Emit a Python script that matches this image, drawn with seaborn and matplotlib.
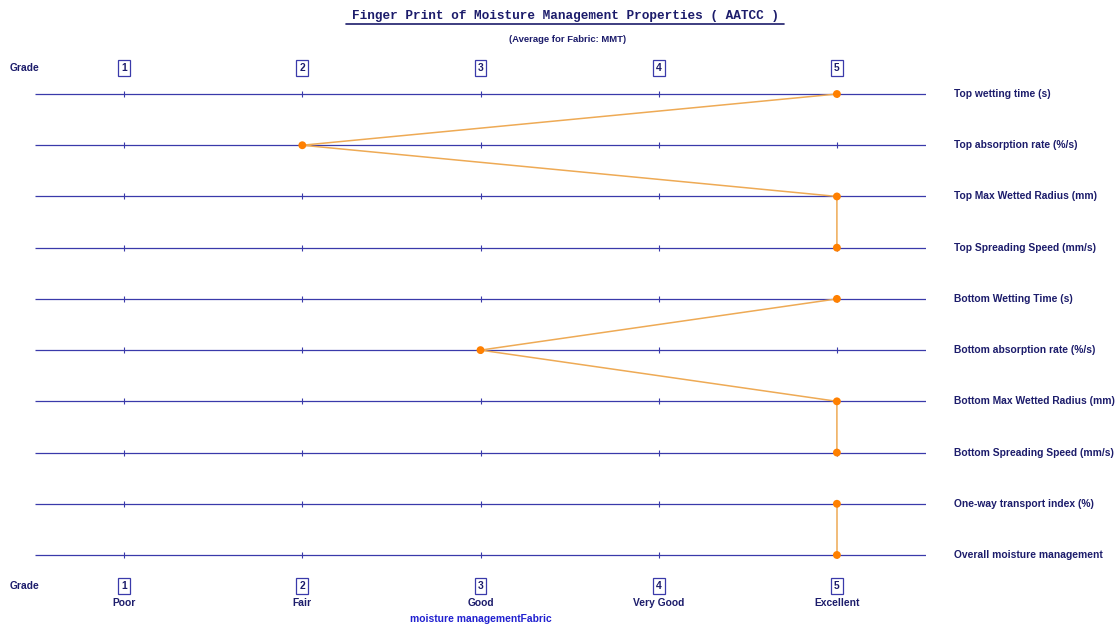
import matplotlib
matplotlib.use("Agg")
import matplotlib.pyplot as plt
import seaborn as sns
import pandas as pd
from matplotlib.lines import Line2D

properties = [
    "Top wetting time (s)",
    "Top absorption rate (%/s)",
    "Top Max Wetted Radius (mm)",
    "Top Spreading Speed (mm/s)",
    "Bottom Wetting Time (s)",
    "Bottom absorption rate (%/s)",
    "Bottom Max Wetted Radius (mm)",
    "Bottom Spreading Speed (mm/s)",
    "One-way transport index (%)",
    "Overall moisture management",
]
grades = [5, 2, 5, 5, 5, 3, 5, 5, 5, 5]
segments = ["top", "top", "top", "top", "bottom", "bottom", "bottom", "bottom",
            "overall", "overall"]
grade_ticks = [1, 2, 3, 4, 5]
grade_names = ["Poor", "Fair", "Good", "Very Good", "Excellent"]

title = "Finger Print of Moisture Management Properties ( AATCC )"
subtitle = "(Average for Fabric: MMT)"
xlabel = "moisture managementFabric"

sns.set_theme(style="white")
plt.rcParams["font.family"] = ["Liberation Sans", "DejaVu Sans"]

NAVY = "#1c1c6b"
BLUE = "#3a3aaa"
ORANGE_L = "#eeaa55"
ORANGE = "#ff8000"

W, H = 1118, 626
fig = plt.figure(figsize=(W / 100, H / 100), dpi=100)
fig.patch.set_facecolor("white")

# axes: x 0.5..5.5 -> px 35..926 ; rows -0.5..9.5 -> px 68.4..580.6
left_px, right_px = 35, 926
unit = (right_px - left_px) / 5
top_px, bot_px = 68.4, 580.6
ax = fig.add_axes([left_px / W, 1 - bot_px / H, (right_px - left_px) / W,
                   (bot_px - top_px) / H])
ax.set_xlim(0.5, 5.5)
ax.set_ylim(9.5, -0.5)
ax.axis("off")

rows = list(range(len(properties)))
df = pd.DataFrame({"grade": grades, "row": rows, "prop": properties, "seg": segments})

# horizontal grade lines
ax.hlines(rows, 0.5, 5.5, color=BLUE, lw=0.9, zorder=1)
# small tick marks on each line
for r in rows:
    ax.scatter(grade_ticks, [r] * len(grade_ticks), marker="|", s=18, color=BLUE,
               linewidths=0.8, zorder=2)

# fingerprint line (three connected groups)
sns.lineplot(data=df, x="grade", y="row", units="seg", sort=False, estimator=None,
             color=ORANGE_L, lw=1.1, ax=ax, zorder=3, legend=False)
sns.scatterplot(data=df, x="grade", y="row", color=ORANGE, s=32, edgecolor="none",
                ax=ax, zorder=4, legend=False)
ax.set_xlabel("")
ax.set_ylabel("")

FS = 7.4
# row labels
for r, p in zip(rows, properties):
    ax.text(5.5 + (954 - right_px) / unit, r, p, ha="left", va="center", fontsize=FS,
            fontweight="bold", color=NAVY, clip_on=False)

# grade headers (top and bottom)
box = dict(boxstyle="square,pad=0.3", fc="white", ec=BLUE, lw=0.9)
row_h = 51.22
top_y = -(94 - 68) / row_h
bot_y = 9 + (586 - 555) / row_h
name_y = 9 + (603 - 555) / row_h
lab_y = 9 + (619 - 555) / row_h
gx = 0.5 + (10 - left_px) / unit
for yy in (top_y, bot_y):
    ax.text(gx, yy, "Grade", ha="left", va="center", fontsize=FS, fontweight="bold",
            color=NAVY, clip_on=False)
    for g in grade_ticks:
        ax.text(g, yy, str(g), ha="center", va="center", fontsize=FS, fontweight="bold",
                color=NAVY, bbox=box, clip_on=False)
for g, n in zip(grade_ticks, grade_names):
    ax.text(g, name_y, n, ha="center", va="center", fontsize=FS, fontweight="bold",
            color=NAVY, clip_on=False)
ax.text(3, lab_y, xlabel, ha="center", va="center", fontsize=FS, fontweight="bold",
        color="#2020d0", clip_on=False)

# title
fig.text(565 / W, 1 - 16 / H, title, ha="center", va="center", fontsize=9.2,
         fontweight="bold", family="Liberation Mono", color=NAVY)
fig.add_artist(Line2D([346 / W, 784 / W], [1 - 23.5 / H, 1 - 23.5 / H],
                      color=NAVY, lw=1.2, transform=fig.transFigure))
fig.text(568 / W, 1 - 39.5 / H, subtitle, ha="center", va="center", fontsize=6.8,
         fontweight="bold", color=NAVY)

fig.savefig("out.png", dpi=100, facecolor="white")
